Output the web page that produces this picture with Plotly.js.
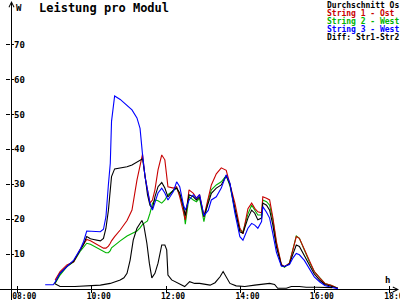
<!DOCTYPE html>
<html><head><meta charset="utf-8">
<script src="https://cdn.plot.ly/plotly-3.0.1.min.js"></script>
<style>html,body{margin:0;padding:0;background:#fff}#chart{width:400px;height:300px}</style>
</head><body><div id="chart"></div>
<script>
const times = ["08:45","08:58","09:01","09:09","09:20","09:31","09:41","09:47","09:52","09:58",
"10:03","10:14","10:19","10:23","10:27","10:30","10:32","10:37","10:46","10:57",
"11:05","11:13","11:18","11:22","11:26","11:30","11:34","11:38","11:42","11:47",
"11:53","11:58","12:03","12:12","12:17","12:22","12:28","12:31","12:37","12:44",
"12:49","12:54","13:01","13:08","13:13","13:21","13:29","13:37","13:43","13:51",
"13:59","14:04","14:12","14:18","14:23","14:28","14:34","14:36","14:42","14:47",
"14:52","14:58","15:06","15:11","15:19","15:25","15:30","15:35","15:43","15:51",
"15:59","16:08","16:16","16:26","16:37"];

const avgVals = [null,null,1.8,4.5,6.4,8.0,11.0,12.8,15.0,14.4,
14.2,13.8,14.5,17.4,22.6,28.0,32.2,34.4,34.7,35.0,
35.5,36.3,37.0,37.3,32.5,27.0,24.0,23.0,26.4,29.3,
30.5,28.9,26.4,28.4,28.9,27.5,23.6,21.0,27.0,26.4,
25.5,26.4,20.7,24.6,27.4,28.9,29.8,32.4,30.0,23.0,
16.4,16.0,20.3,22.6,21.7,19.8,20.3,24.6,24.0,22.6,
18.5,12.0,6.8,6.4,7.2,10.2,12.6,12.2,9.6,6.8,
4.3,2.5,1.3,0.8,0.2];

const str1Vals = [null,null,2.6,5.0,6.9,7.8,11.2,12.8,14.2,13.8,
13.3,12.1,11.7,11.7,12.3,13.1,13.8,15.0,16.9,19.6,
22.6,31.2,35.5,38.6,32.2,28.4,24.6,25.5,28.4,34.1,
38.4,37.0,29.3,28.9,29.3,26.4,22.5,19.8,28.4,27.4,
26.0,27.0,20.7,26.5,29.8,33.0,34.7,34.0,30.0,24.6,
17.5,15.8,23.0,24.6,23.1,22.1,21.8,26.4,26.0,25.5,
20.7,13.5,7.0,6.4,7.4,11.2,15.0,14.5,11.2,7.8,
5.0,3.1,1.6,1.1,0.2];

const str2Vals = [null,null,1.6,4.0,6.4,7.8,10.7,12.0,13.1,12.8,
12.3,11.4,10.7,10.4,10.4,11.0,11.8,12.6,13.8,15.2,
15.8,16.6,17.5,18.5,19.0,19.5,21.7,24.5,25.5,25.3,
24.6,25.5,27.0,28.4,28.9,27.0,23.0,18.6,26.4,25.5,
25.0,26.0,19.3,25.5,28.4,29.8,30.7,32.5,29.5,22.5,
16.9,16.4,21.5,24.0,22.5,21.2,21.2,25.5,25.0,24.0,
20.0,13.0,6.8,6.2,7.5,11.5,15.2,14.5,11.0,7.8,
5.0,3.1,1.6,1.1,0.2];

const str3Vals = [1.2,1.2,2.0,4.5,6.4,8.3,11.2,13.6,16.6,16.6,
16.4,16.4,17.1,20.7,30.0,36.0,48.0,55.3,54.3,52.7,
51.3,49.0,46.0,38.5,32.2,28.4,24.6,22.6,25.0,27.5,
28.9,27.5,25.5,28.0,30.7,29.3,24.1,22.6,25.5,27.0,
26.0,27.0,21.0,22.5,25.5,26.4,28.9,32.7,30.3,21.7,
15.0,14.0,17.4,18.8,18.3,17.4,19.3,23.6,22.0,20.3,
16.0,10.5,6.5,6.5,7.0,9.0,10.2,9.8,8.2,6.0,
3.5,2.0,1.0,0.5,0.1];

const diffTimes = ["09:00","09:09","09:33","09:58","10:14","10:30","10:38","10:46","10:52","10:57",
"11:02","11:07","11:13","11:21","11:24","11:29","11:33","11:37","11:42","11:47",
"11:53","11:58","12:01","12:03","12:09","12:20","12:30","12:38","12:46","12:54",
"13:11","13:19","13:27","13:32","13:37","13:43","13:53","14:07","14:23","14:39",
"14:47","14:55","15:00","15:14","15:22","15:35","15:46","16:02","16:28"];
const diffVals = [1.6,0.7,0.7,1.0,1.1,1.6,2.1,2.6,3.2,4.5,
8.3,14.0,17.4,19.6,18.3,13.1,7.4,3.2,4.5,7.4,
12.6,12.6,11.2,4.0,2.6,1.6,0.7,2.1,1.6,1.6,
1.1,1.8,3.5,5.0,3.5,1.6,0.9,0.7,1.1,1.4,
1.6,1.3,0.2,0.2,0.7,0.7,0.5,0.5,0.4];

const seriesNames = ["Durchschnitt Os","String 1 - Ost","String 2 - West","String 3 - West","Diff: Str1-Str2"];
const seriesColors = ["#000000","#c80000","#00b400","#0000ff","#000000"];
const xTickLabels = ["08:00","10:00","12:00","14:00","16:00","18:00"];
const yTickVals = [10,20,30,40,50,60,70];

const day = "2000-01-01 ";
const toDate = t => day + t;
const W = 400, H = 300, L = 11, R = 2, T = 2, B = 11;
const plotW = W - L - R, plotH = H - T - B;
const px = p => (p - L) / plotW;          // pixel x -> paper x
const py = p => (H - B - p) / plotH;      // pixel y -> paper y
const xRange = [day + "07:49:52", day + "18:14:02"];
const yRange = [0, 82.2];
const mono = "DejaVu Sans Mono";

const xs = times.map(toDate);
function line(y, i, x) {
  return {type: "scatter", mode: "lines", x: x || xs, y: y, name: seriesNames[i],
    line: {color: seriesColors[i], width: 1.1}, hoverinfo: "skip", connectgaps: false};
}
const traces = [
  line(str2Vals, 2),
  line(str1Vals, 1),
  line(avgVals, 0),
  line(str3Vals, 3),
  line(diffVals, 4, diffTimes.map(toDate)),
  {type: "scatter", mode: "lines", x: [], y: [], xaxis: "x2", yaxis: "y2", hoverinfo: "skip"}
];

const annotations = seriesNames.map((n, i) => ({
  xref: "paper", yref: "paper", x: px(325), y: py(4.5 + 8 * i),
  xanchor: "left", yanchor: "middle", showarrow: false, text: n,
  font: {family: mono, size: 8, color: seriesColors[i], weight: "bold"}
}));
annotations.push({xref: "paper", yref: "paper", x: px(13.5), y: py(1), xanchor: "left", yanchor: "top",
  showarrow: false, text: "W", font: {family: mono, size: 9, color: "#000", weight: "bold"}});
annotations.push({xref: "paper", yref: "paper", x: px(387), y: py(280), xanchor: "center", yanchor: "middle",
  showarrow: false, text: "h", font: {family: mono, size: 9, color: "#000", weight: "bold"}});
annotations.push({xref: "paper", yref: "paper", x: px(11.5), y: py(1), ax: 0, ay: 10, text: "",
  showarrow: true, arrowhead: 5, arrowsize: 1, arrowwidth: 1, arrowcolor: "#000"});
annotations.push({xref: "paper", yref: "paper", x: px(399), y: py(289.5), ax: -10, ay: 0, text: "",
  showarrow: true, arrowhead: 5, arrowsize: 1, arrowwidth: 1, arrowcolor: "#000"});

const shapes = [
  {type: "line", xref: "paper", yref: "paper", x0: px(0), x1: px(397), y0: py(289.5), y1: py(289.5),
   line: {color: "#000", width: 1}},
  {type: "line", xref: "paper", yref: "paper", x0: px(11.5), x1: px(11.5), y0: py(300), y1: py(2),
   line: {color: "#000", width: 1}}
];

const axCommon = {showgrid: false, zeroline: false, showline: false, fixedrange: true,
  tickcolor: "#000", tickwidth: 1, ticklabeloverflow: "allow"};

const layout = {
  width: W, height: H, margin: {l: L, r: R, t: T, b: B, pad: 0},
  paper_bgcolor: "#fff", plot_bgcolor: "#fff", showlegend: false,
  title: {text: "Leistung pro Modul", font: {family: mono, size: 12, color: "#000", weight: "bold"},
    x: 39 / W, xanchor: "left", xref: "container", y: 1 - 7.5 / H, yref: "container", yanchor: "middle"},
  xaxis: Object.assign({}, axCommon, {type: "date", range: xRange, ticks: "outside", ticklen: 3,
    tickvals: xTickLabels.map(toDate), ticktext: xTickLabels, ticklabelshift: 7, ticklabelstandoff: -4,
    tickfont: {family: mono, size: 8, color: "#000", weight: "bold"}}),
  yaxis: Object.assign({}, axCommon, {range: yRange, ticks: "outside", ticklen: 4,
    tickvals: yTickVals, ticktext: yTickVals.map(String), ticklabelposition: "inside",
    tickfont: {family: mono, size: 9, color: "#000", weight: "bold"}}),
  xaxis2: Object.assign({}, axCommon, {type: "date", range: xRange, overlaying: "x", ticks: "inside",
    ticklen: 3, tickvals: xTickLabels.map(toDate), showticklabels: false}),
  yaxis2: Object.assign({}, axCommon, {range: yRange, overlaying: "y", ticks: "inside",
    ticklen: 3, tickvals: yTickVals, showticklabels: false}),
  shapes: shapes,
  annotations: annotations
};

Plotly.newPlot("chart", traces, layout, {staticPlot: true, displayModeBar: false});
</script>
</body></html>
